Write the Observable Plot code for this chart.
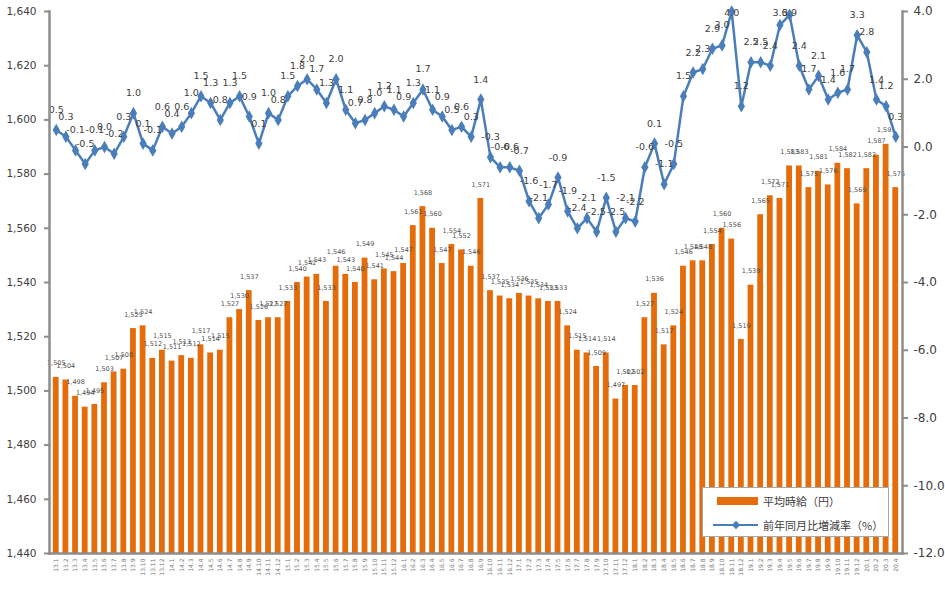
<!DOCTYPE html>
<html>
<head>
<meta charset="utf-8">
<script src="https://cdn.jsdelivr.net/npm/d3@7"></script>
<script src="https://cdn.jsdelivr.net/npm/@observablehq/plot@0.6"></script>
<style>
  html, body { margin: 0; padding: 0; background: #fff; }
  #wrap { position: relative; width: 945px; height: 591px; }
  #legend {
    position: absolute; left: 702px; top: 487px; width: 185px; height: 48px;
    background: #fff; border: 1.5px solid #a6a6a6;
    font-family: "Noto Sans CJK JP", sans-serif; font-size: 11px; color: #404040;
  }
  .row { position: absolute; left: 0; display: flex; align-items: center; }
  .sw { width: 41px; height: 8px; background: #E46C0A; margin-left: 14px; margin-right: 5px; }
  .ln { position: relative; width: 45px; height: 12px; margin-left: 10px; margin-right: 5px; }
  .ln::before { content: ""; position: absolute; left: 0; right: 0; top: 5px; height: 2px; background: #4A7EBB; }
  .ln::after { content: ""; position: absolute; left: 20px; top: 3px; width: 6px; height: 6px; background: #4A7EBB; transform: rotate(45deg); }
</style>
</head>
<body>
<div id="wrap">
  <div id="chart"></div>
  <div id="legend">
    <div class="row" style="top:5px"><div class="sw"></div><span>平均時給（円）</span></div>
    <div class="row" style="top:29px"><div class="ln"></div><span>前年同月比増減率（%）</span></div>
  </div>
</div>
<script>
const months = [
  "13.1","13.2","13.3","13.4","13.5","13.6","13.7","13.8","13.9","13.10","13.11","13.12",
  "14.1","14.2","14.3","14.4","14.5","14.6","14.7","14.8","14.9","14.10","14.11","14.12",
  "15.1","15.2","15.3","15.4","15.5","15.6","15.7","15.8","15.9","15.10","15.11","15.12",
  "16.1","16.2","16.3","16.4","16.5","16.6","16.7","16.8","16.9","16.10","16.11","16.12",
  "17.1","17.2","17.3","17.4","17.5","17.6","17.7","17.8","17.9","17.10","17.11","17.12",
  "18.1","18.2","18.3","18.4","18.5","18.6","18.7","18.8","18.9","18.10","18.11","18.12",
  "19.1","19.2","19.3","19.4","19.5","19.6","19.7","19.8","19.9","19.10","19.11","19.12",
  "20.1","20.2","20.3","20.4"
];
const wage = [
  1505,1504,1498,1494,1495,1503,1507,1508,1523,1524,1512,1515,
  1511,1513,1512,1517,1514,1515,1527,1530,1537,1526,1527,1527,
  1533,1540,1542,1543,1533,1546,1543,1540,1549,1541,1545,1544,
  1547,1561,1568,1560,1547,1554,1552,1546,1571,1537,1535,1534,
  1536,1535,1534,1533,1533,1524,1515,1514,1509,1514,1497,1502,
  1502,1527,1536,1517,1524,1546,1548,1548,1554,1560,1556,1519,
  1539,1565,1572,1571,1583,1583,1575,1581,1576,1584,1582,1569,
  1582,1587,1591,1575
];
const yoy = [
  0.5,0.3,-0.1,-0.5,-0.1,0.0,-0.2,0.3,1.0,0.1,-0.1,0.6,
  0.4,0.6,1.0,1.5,1.3,0.8,1.3,1.5,0.9,0.1,1.0,0.8,
  1.5,1.8,2.0,1.7,1.3,2.0,1.1,0.7,0.8,1.0,1.2,1.1,
  0.9,1.3,1.7,1.1,0.9,0.5,0.6,0.3,1.4,-0.3,-0.6,-0.6,
  -0.7,-1.6,-2.1,-1.7,-0.9,-1.9,-2.4,-2.1,-2.5,-1.5,-2.5,-2.1,
  -2.2,-0.6,0.1,-1.1,-0.5,1.5,2.2,2.3,2.9,3.0,4.0,1.2,
  2.5,2.5,2.4,3.6,3.9,2.4,1.7,2.1,1.4,1.6,1.7,3.3,
  2.8,1.4,1.2,0.3
];
const leftTicks = [1440,1460,1480,1500,1520,1540,1560,1580,1600,1620,1640];
const rightTicks = [-12,-10,-8,-6,-4,-2,0,2,4];

const yMin = 1440, yMax = 1640, rMin = -12, rMax = 4;
const toY = v => yMin + (v - rMin) * (yMax - yMin) / (rMax - rMin);
const fromY = y => rMin + (y - yMin) * (rMax - rMin) / (yMax - yMin);
// label position: ~20px above the point, kept inside the plot area (as Excel does)
const labelOffset = 20 / (543 / (yMax - yMin));
const labelY = v => Math.min(toY(v) + labelOffset, yMax - 0.6);

const data = months.map((m, i) => ({m, wage: wage[i], yoy: yoy[i]}));
const blue = "#4A7EBB", orange = "#E46C0A", axisGray = "#8c8c8c";

const chart = Plot.plot({
  width: 945, height: 591,
  marginLeft: 49, marginRight: 43, marginTop: 11, marginBottom: 38,
  style: {fontFamily: "DejaVu Sans, sans-serif", color: "#404040", background: "#fff"},
  x: {type: "band", domain: months, padding: 0.4, label: null},
  y: {domain: [yMin, yMax], label: null},
  marks: [
    Plot.barY(data, {x: "m", y1: yMin, y2: "wage", fill: orange}),
    Plot.text(data, {x: "m", y: "wage", text: d => d3.format(",")(d.wage), dy: -14, fontSize: 6.5, fill: "#505050"}),
    Plot.line(data, {x: "m", y: d => toY(d.yoy), stroke: blue, strokeWidth: 2.5}),
    Plot.dot(data, {x: "m", y: d => toY(d.yoy), symbol: "diamond", r: 3.8, fill: blue, stroke: null}),
    Plot.text(data, {x: "m", y: d => labelY(d.yoy), text: d => d.yoy.toFixed(1), fontSize: 9.5, fill: "#404040"}),
    Plot.axisY(leftTicks, {anchor: "left", tickFormat: d3.format(","), tickSize: 5, fontSize: 10.5, stroke: axisGray, strokeWidth: 2, tickPadding: 8, label: null}),
    Plot.axisY(rightTicks.map(toY), {anchor: "right", tickFormat: v => fromY(v).toFixed(1), tickSize: 5, fontSize: 12, stroke: axisGray, strokeWidth: 2, tickPadding: 6, label: null}),
    Plot.axisX({tickRotate: -90, tickSize: 0, fontSize: 6, tickPadding: 5, fill: "#777", label: null}),
    Plot.frame({anchor: "left", stroke: axisGray, strokeWidth: 2.5}),
    Plot.frame({anchor: "right", stroke: axisGray, strokeWidth: 2.5}),
    Plot.frame({anchor: "bottom", stroke: axisGray, strokeWidth: 2.5})
  ]
});
document.getElementById("chart").appendChild(chart);
</script>
</body>
</html>
